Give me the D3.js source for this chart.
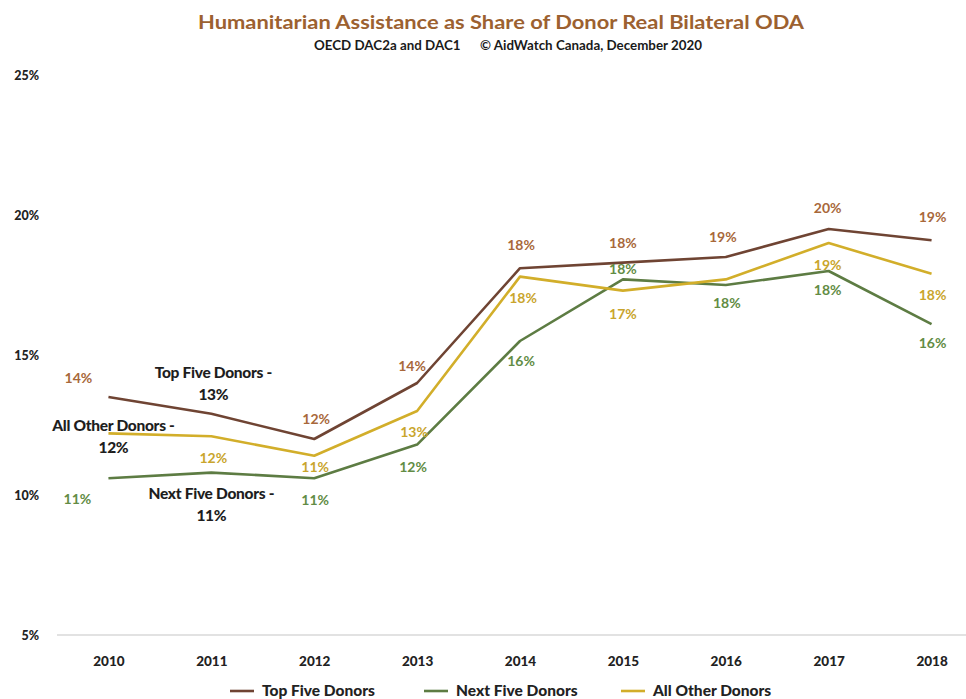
<!DOCTYPE html>
<html>
<head>
<meta charset="utf-8">
<script src="https://cdn.jsdelivr.net/npm/d3@7"></script>
<style>
  html, body { margin: 0; padding: 0; background: #ffffff; }
  svg { display: block; font-family: "Lato", "Open Sans", sans-serif; }
</style>
</head>
<body>
<svg id="chart" width="966" height="699"></svg>
<script>
// Humanitarian assistance as a share of real bilateral ODA, by donor group
const years = ["2010", "2011", "2012", "2013", "2014", "2015", "2016", "2017", "2018"];
const topFive   = [13.5, 12.9, 12.0, 14.0, 18.1, 18.3, 18.5, 19.5, 19.1];
const nextFive  = [10.6, 10.8, 10.6, 11.8, 15.5, 17.7, 17.5, 18.0, 16.1];
const allOther  = [12.2, 12.1, 11.4, 13.0, 17.8, 17.3, 17.7, 19.0, 17.9];
const yTicks = [5, 10, 15, 20, 25];

const seriesNames = ["Top Five Donors", "Next Five Donors", "All Other Donors"];
const seriesValues = [topFive, nextFive, allOther];

// Styling per series
const lineColors  = ["#6f4433", "#5d7c43", "#d2ae2a"];
const labelColors = ["#a8683a", "#628c44", "#c9a52c"];

// Label placement: vertical offset (px) and horizontal nudge per point; null = no label
const labelDy = [
  [-19, null, -20, -17, -23, -20, -20, -21, -23],
  [ 21, null,  22,  22,  20, -10,  18,  19,  19],
  [null, 22,  11,  21,  21,  23, null,  22,  21]
];
const labelDx = [
  [-30, 0, 2, -5, 1, 0, -3, -1, 1],
  [-31, 0, 1, -4, 1, 0, 1, -1, 1],
  [0, 2, 1, -3, 3, 0, 0, -1, 1]
];
// Series-name callouts: anchor year index, offset of the callout centre
const callouts = [
  { series: 0, idx: 1, dx: 2,  dy: -41 },
  { series: 1, idx: 1, dx: 0,  dy: 21 },
  { series: 2, idx: 0, dx: 5,  dy: -8 }
];

const svg = d3.select("#chart");

const x = d3.scalePoint().domain(years).range([57, 983]).padding(0.5);
const y = d3.scaleLinear().domain([5, 25]).range([635, 75]);

// Title block
svg.append("text")
  .attr("x", 501).attr("y", 29)
  .attr("text-anchor", "middle")
  .attr("font-size", 18.5).attr("font-weight", 700)
  .attr("fill", "#9c6130")
  .attr("textLength", 606).attr("lengthAdjust", "spacingAndGlyphs")
  .text("Humanitarian Assistance as Share of Donor Real Bilateral ODA");

svg.append("text")
  .attr("x", 508).attr("y", 50)
  .attr("text-anchor", "middle")
  .attr("font-size", 12.5).attr("font-weight", 700)
  .attr("fill", "#1a1a1a")
  .attr("textLength", 388).attr("lengthAdjust", "spacingAndGlyphs")
  .attr("xml:space", "preserve")
  .text("OECD DAC2a and DAC1      \u00A9 AidWatch Canada, December 2020");

// Y axis (labels only, no line)
const yAxis = d3.axisLeft(y).tickValues(yTicks).tickSize(0).tickPadding(0)
  .tickFormat(d => d + "%");
const gy = svg.append("g").attr("transform", "translate(39,0)").call(yAxis);
gy.select(".domain").remove();
gy.selectAll("text")
  .attr("font-family", "Lato, sans-serif")
  .attr("font-size", 12.5).attr("font-weight", 900).attr("fill", "#222");

// X axis with baseline
const xAxis = d3.axisBottom(x).tickSize(0).tickPadding(22);
const gx = svg.append("g").attr("transform", "translate(0,635)").call(xAxis);
gx.select(".domain").attr("stroke", "#d9d9d9").attr("stroke-width", 1.3)
  .attr("d", "M57,0H983");
gx.selectAll("text")
  .attr("font-family", "Lato, sans-serif")
  .attr("font-size", 13.5).attr("font-weight", 900).attr("fill", "#222")
  .attr("dy", "0.32em");
gx.selectAll(".tick text").attr("y", 27);

// Lines
const line = d3.line()
  .x((d, i) => x(years[i]))
  .y(d => y(d));

seriesValues.forEach((vals, s) => {
  svg.append("path")
    .datum(vals)
    .attr("fill", "none")
    .attr("stroke", lineColors[s])
    .attr("stroke-width", 2.6)
    .attr("stroke-linejoin", "round")
    .attr("d", line);
});

// Data labels
seriesValues.forEach((vals, s) => {
  svg.append("g").selectAll("text")
    .data(vals.map((v, i) => ({ v, i })).filter(d => labelDy[s][d.i] !== null))
    .join("text")
    .attr("x", d => x(years[d.i]) + labelDx[s][d.i])
    .attr("y", d => y(d.v) + labelDy[s][d.i])
    .attr("dy", "0.35em")
    .attr("text-anchor", "middle")
    .attr("font-size", 14).attr("font-weight", 700)
    .attr("fill", labelColors[s])
    .text(d => Math.round(d.v) + "%");
});

// Series-name callouts
callouts.forEach(c => {
  const v = seriesValues[c.series][c.idx];
  const cx = x(years[c.idx]) + c.dx;
  const cy = y(v) + c.dy;
  const t = svg.append("text")
    .attr("text-anchor", "middle")
    .attr("font-size", 15.5).attr("font-weight", 900).attr("fill", "#1e1e1e")
    .attr("letter-spacing", -0.3);
  t.append("tspan").attr("x", cx).attr("y", cy).attr("dy", "0.35em")
    .text(seriesNames[c.series] + " -");
  t.append("tspan").attr("x", cx).attr("y", cy + 22).attr("dy", "0.35em")
    .text(Math.round(v) + "%");
});

// Legend
const legendText = [262, 456, 653];
const legend = svg.append("g");
seriesNames.forEach((name, s) => {
  legend.append("line")
    .attr("x1", legendText[s] - 32).attr("x2", legendText[s] - 8)
    .attr("y1", 691).attr("y2", 691)
    .attr("stroke", lineColors[s]).attr("stroke-width", 2.6);
  legend.append("text")
    .attr("x", legendText[s]).attr("y", 691).attr("dy", "0.35em")
    .attr("font-size", 15.5).attr("font-weight", 900).attr("fill", "#222")
    .text(name);
});
</script>
</body>
</html>
